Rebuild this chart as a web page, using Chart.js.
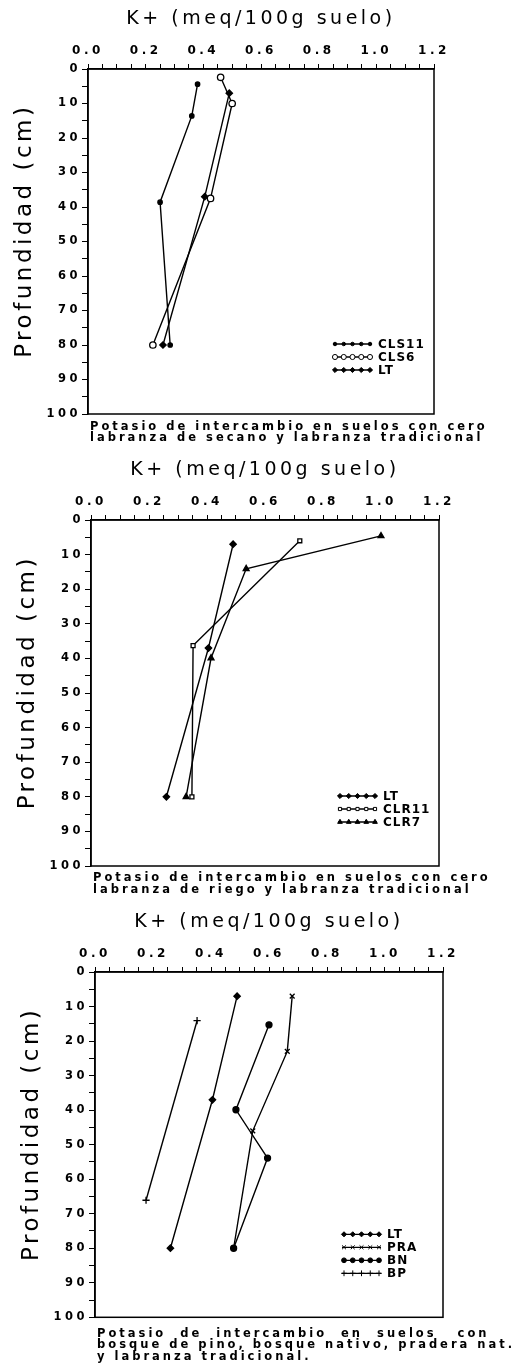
<!DOCTYPE html>
<html>
<head>
<meta charset="utf-8">
<script src="https://cdn.jsdelivr.net/npm/chart.js@4.4.1/dist/chart.umd.min.js"></script>
<style>
  html, body { margin: 0; padding: 0; background: #fff; }
  body { width: 515px; height: 1369px; position: relative; overflow: hidden; }
  canvas { position: absolute; left: 0; }
</style>
</head>
<body>
<canvas id="panel-1" width="515" height="446" style="top:0px"></canvas>
<canvas id="panel-2" width="515" height="447" style="top:451px"></canvas>
<canvas id="panel-3" width="515" height="462" style="top:903px"></canvas>
<script>
// K+ (meq/100g suelo) against depth (cm)

const xTitle = 'K+ (meq/100g suelo)';
const yTitle = '  Profundidad (cm)';
const xLabels = [0.0, 0.2, 0.4, 0.6, 0.8, 1.0, 1.2];
const yLabels = [0, 10, 20, 30, 40, 50, 60, 70, 80, 90, 100];

// LT - labranza tradicional (same series in all three panels)
const ltDepth = [7, 37, 80];
const ltK = [0.49, 0.405, 0.26];

// panel 1 - cero labranza de secano
const cls11Depth = [4.4, 13.6, 38.6, 80];
const cls11K = [0.38, 0.36, 0.25, 0.285];
const cls6Depth = [2.4, 10, 37.5, 80];
const cls6K = [0.46, 0.50, 0.425, 0.225];

// panel 2 - cero labranza de riego
const clr11Depth = [6, 36.3, 80];
const clr11K = [0.72, 0.352, 0.348];
const clr7Depth = [4.6, 14.1, 39.9, 80];
const clr7K = [1.00, 0.535, 0.414, 0.328];

// panel 3 - pradera, bosque nativo, bosque de pino
const praDepth = [7, 23, 46, 80];
const praK = [0.68, 0.663, 0.544, 0.478];
const bnDepth = [15.3, 39.9, 53.9, 80];
const bnK = [0.60, 0.486, 0.595, 0.478];
const bpDepth = [14.1, 66.1];
const bpK = [0.352, 0.176];

const caption1 = ['Potasio de intercambio en suelos con cero', 'labranza de secano y labranza tradicional'];
const caption2 = ['Potasio de intercambio en suelos con cero', 'labranza de riego y labranza tradicional'];
const caption3 = ['Potasio  de  intercambio  en  suelos   con', 'bosque de pino, bosque nativo, pradera nat.', 'y labranza tradicional.'];

const FONT = '"DejaVu Sans", sans-serif';

// marker look per series
const markers = {
  'LT':    { shape: 'rectRot',  r: 3.2, fill: '#000' },
  'CLS11': { shape: 'circle',   r: 2.2, fill: '#000' },
  'CLS6':  { shape: 'circle',   r: 3.2, fill: '#fff' },
  'CLR11': { shape: 'rect',     r: 2.8, fill: '#fff' },
  'CLR7':  { shape: 'triangle', r: 3.4, fill: '#000' },
  'PRA':   { shape: 'crossRot', r: 3.4, fill: '#000' },
  'BN':    { shape: 'circle',   r: 3.0, fill: '#000' },
  'BP':    { shape: 'cross',    r: 3.6, fill: '#000' }
};

function series(label, k, depth) {
  const m = markers[label];
  return {
    label: label,
    data: k.map((v, i) => ({ x: v, y: depth[i] })),
    showLine: true,
    borderColor: '#000',
    borderWidth: 1.4,
    tension: 0,
    pointStyle: m.shape,
    pointRadius: m.r,
    pointBackgroundColor: m.fill,
    pointBorderColor: '#000',
    pointBorderWidth: 1.3
  };
}

// plotter-like wide lettering
const spacing = {
  id: 'spacing',
  beforeUpdate(chart) { chart.ctx.letterSpacing = '3.5px'; },
  beforeDraw(chart) { chart.ctx.letterSpacing = '3.5px'; }
};

// closed frame round the plot
const frame = {
  id: 'frame',
  afterDatasetsDraw(chart) {
    const { ctx, chartArea: a } = chart;
    ctx.save();
    ctx.strokeStyle = '#000';
    ctx.lineWidth = 1.5;
    ctx.strokeRect(a.left, a.top, a.right - a.left, a.bottom - a.top);
    ctx.restore();
  }
};

// legend drawn inside the plot, lower right
const insideLegend = {
  id: 'insideLegend',
  afterDatasetsDraw(chart) {
    const { ctx, chartArea: a } = chart;
    const sets = chart.data.datasets;
    const x0 = a.right - 101, len = 39, gap = 13;
    sets.forEach((ds, i) => {
      const y = a.bottom - 44 - (sets.length - 1 - i) * gap;
      ctx.save();
      ctx.strokeStyle = '#000';
      ctx.lineWidth = 1.3;
      ctx.beginPath();
      ctx.moveTo(x0, y);
      ctx.lineTo(x0 + len, y);
      ctx.stroke();
      for (let j = 0; j < 5; j++) {
        ctx.fillStyle = ds.pointBackgroundColor;
        ctx.strokeStyle = '#000';
        ctx.lineWidth = 1;
        Chart.helpers.drawPoint(ctx, { pointStyle: ds.pointStyle, radius: ds.pointRadius * 0.8, borderWidth: 1, rotation: 0 }, x0 + 2 + j * (len - 4) / 4, y);
      }
      ctx.fillStyle = '#000';
      ctx.letterSpacing = '1px';
      ctx.font = 'bold 12px ' + FONT;
      ctx.textBaseline = 'middle';
      ctx.textAlign = 'left';
      ctx.fillText(ds.label, x0 + len + 6, y + 0.5);
      ctx.restore();
    });
  }
};

// caption under the plot, left-aligned with the frame
const caption = {
  id: 'caption',
  afterDraw(chart, args, opts) {
    const { ctx, chartArea: a } = chart;
    ctx.save();
    ctx.fillStyle = '#000';
    ctx.letterSpacing = '3px';
    ctx.font = 'bold 11.5px ' + FONT;
    ctx.textBaseline = 'middle';
    ctx.textAlign = 'left';
    opts.lines.forEach((line, i) => {
      ctx.fillText(line, a.left + 2, a.bottom + opts.offset + i * opts.lineGap);
    });
    ctx.restore();
  }
};

function isLabel(list, v) {
  return list.some(t => Math.abs(t - v) < 1e-6);
}

function makePanel(id, datasets, lines, plotLeft, plotRight, padBottom, capOffset, capGap) {
  const ctx = document.getElementById(id).getContext('2d');
  return new Chart(ctx, {
    type: 'scatter',
    data: { datasets: datasets },
    plugins: [spacing, frame, insideLegend, caption],
    options: {
      responsive: false,
      animation: false,
      layout: { padding: { left: 0, right: 515 - plotRight, top: 0, bottom: padBottom } },
      plugins: {
        legend: { display: false },
        tooltip: { enabled: false },
        title: { display: false },
        caption: { lines: lines, offset: capOffset, lineGap: capGap }
      },
      scales: {
        x: {
          type: 'linear',
          position: 'top',
          min: 0,
          max: 1.2,
          afterFit: (s) => { s.height = 69; },
          ticks: {
            stepSize: 0.05,
            autoSkip: false,
            maxRotation: 0,
            padding: 6,
            color: '#000',
            font: { family: FONT, size: 12, weight: 'bold' },
            callback: (v) => isLabel(xLabels, v) ? v.toFixed(1) : ''
          },
          grid: { drawOnChartArea: false, color: '#000', tickLength: 5, lineWidth: 1 },
          border: { color: '#000', width: 1.5 },
          title: {
            display: true,
            text: xTitle,
            color: '#000',
            font: { family: FONT, size: 19 },
            padding: { top: 8, bottom: 10 }
          }
        },
        y: {
          type: 'linear',
          reverse: true,
          min: 0,
          max: 100,
          afterFit: (s) => { s.width = plotLeft; },
          ticks: {
            stepSize: 5,
            autoSkip: false,
            padding: 1,
            color: '#000',
            font: { family: FONT, size: 11.5, weight: 'bold' },
            callback: (v) => isLabel(yLabels, v) ? String(v) : ''
          },
          grid: { drawOnChartArea: false, color: '#000', tickLength: 6, lineWidth: 1 },
          border: { color: '#000', width: 1.5 },
          title: {
            display: true,
            text: yTitle,
            color: '#000',
            font: { family: FONT, size: 23 },
            padding: { top: plotLeft - 77, bottom: 0 }
          }
        }
      }
    }
  });
}

makePanel('panel-1', [
  series('CLS11', cls11K, cls11Depth),
  series('CLS6', cls6K, cls6Depth),
  series('LT', ltK, ltDepth)
], caption1, 88, 434, 32, 12.7, 11.6);

makePanel('panel-2', [
  series('LT', ltK, ltDepth),
  series('CLR11', clr11K, clr11Depth),
  series('CLR7', clr7K, clr7Depth)
], caption2, 91, 439, 32, 12.2, 11.6);

makePanel('panel-3', [
  series('LT', ltK, ltDepth),
  series('PRA', praK, praDepth),
  series('BN', bnK, bnDepth),
  series('BP', bpK, bpDepth)
], caption3, 95, 443, 47.7, 16.7, 11.3);
</script>
</body>
</html>
